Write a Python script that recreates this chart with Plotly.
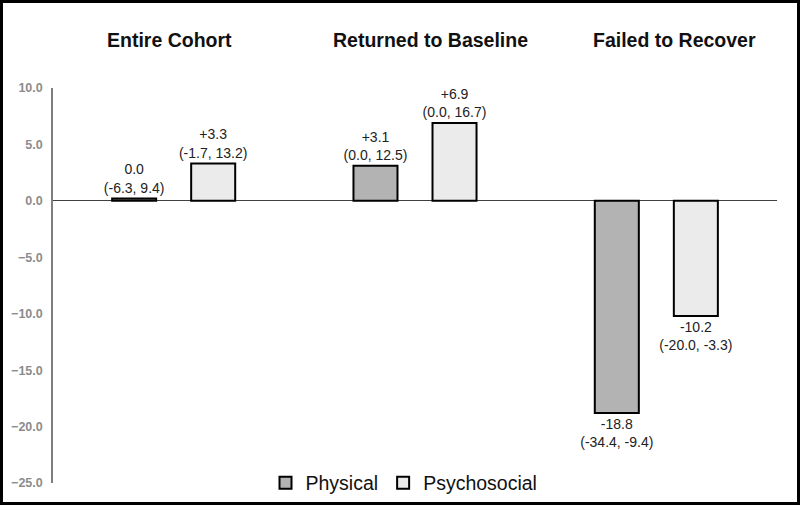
import plotly.graph_objects as go

groups = ["Entire Cohort", "Returned to Baseline", "Failed to Recover"]
physical = [0.2, 3.1, -18.8]
psychosocial = [3.3, 6.9, -10.2]
physical_labels = ["0.0", "+3.1", "-18.8"]
physical_ci = ["(-6.3, 9.4)", "(0.0, 12.5)", "(-34.4, -9.4)"]
psychosocial_labels = ["+3.3", "+6.9", "-10.2"]
psychosocial_ci = ["(-1.7, 13.2)", "(0.0, 16.7)", "(-20.0, -3.3)"]
y_ticks = [10, 5, 0, -5, -10, -15, -20, -25]

FONT = "Liberation Sans, Arial, sans-serif"

fig = go.Figure()
fig.add_trace(go.Bar(
    name="Physical", x=groups, y=physical,
    text=[f"{a}<br>{b}" for a, b in zip(physical_labels, physical_ci)],
    textposition="outside", cliponaxis=False, constraintext="none",
    textfont=dict(size=14, color="#222222", family=FONT),
    marker=dict(color="#b3b3b3", line=dict(color="#000000", width=2)),
))
fig.add_trace(go.Bar(
    name="Psychosocial", x=groups, y=psychosocial,
    text=[f"{a}<br>{b}" for a, b in zip(psychosocial_labels, psychosocial_ci)],
    textposition="outside", cliponaxis=False, constraintext="none",
    textfont=dict(size=14, color="#222222", family=FONT),
    marker=dict(color="#ebebeb", line=dict(color="#000000", width=2)),
))

L, R, T, B = 53, 23, 88, 22
W, H = 800, 505
pw, ph = W - L - R, H - T - B

fig.update_layout(
    width=W, height=H,
    margin=dict(l=L, r=R, t=T, b=B, autoexpand=False),
    paper_bgcolor="white", plot_bgcolor="white",
    barmode="group", bargap=0.345, bargroupgap=0.443,
    font=dict(family=FONT),
    showlegend=True,
    legend=dict(orientation="h", x=(404 - L) / pw, xanchor="center", y=0.0, yanchor="middle",
                font=dict(size=19.5, color="#111111", family=FONT),
                bgcolor="rgba(0,0,0,0)", traceorder="normal"),
    xaxis=dict(showticklabels=False, showgrid=False, showline=False, zeroline=False,
               range=[-0.5, 2.5], automargin=False),
    yaxis=dict(range=[-25, 10], tickvals=y_ticks, tickformat=".1f", automargin=False,
               showgrid=False, showline=True, linecolor="#7f7f7f", linewidth=1.5,
               zeroline=True, zerolinecolor="#404040", zerolinewidth=1,
               ticks="", ticklabelstandoff=6,
               tickfont=dict(size=12.5, color="#8c8c8c", family="Liberation Sans, Arial", weight="bold")),
)

# group titles
title_shift = [-4, 15, 18]
for g, s in zip(groups, title_shift):
    fig.add_annotation(x=g, xref="x", y=1 + (T - 40) / ph, yref="paper", xshift=s,
                       text=f"<b>{g}</b>", showarrow=False,
                       font=dict(size=19.5, color="#111111", family=FONT),
                       xanchor="center", yanchor="middle")

# outer border
fig.add_shape(type="rect", xref="paper", yref="paper",
              x0=(1.5 - L) / pw, x1=(W - 1.5 - L) / pw,
              y0=-(B - 1.5) / ph, y1=1 + (T - 1.5) / ph,
              line=dict(color="#000000", width=3), fillcolor="rgba(0,0,0,0)", layer="above")

fig.write_html("out.html", config={"displayModeBar": False},
               post_script="document.body.style.margin='0';document.body.style.overflow='hidden';")
